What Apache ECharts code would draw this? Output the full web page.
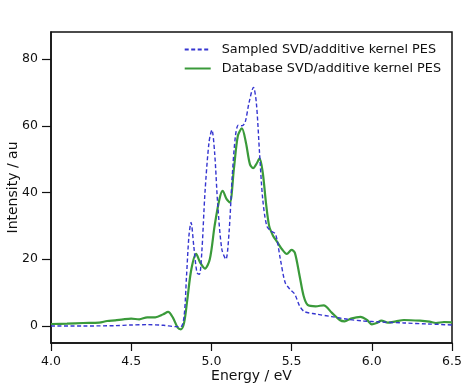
<!DOCTYPE html>
<html>
<head>
<meta charset="utf-8">
<script src="https://cdn.jsdelivr.net/npm/echarts@6/dist/echarts.min.js"></script>
<style>
  html, body { margin: 0; padding: 0; background: #fff; }
  #chart { width: 462px; height: 386px; }
</style>
</head>
<body>
<div id="chart"></div>
<script>
// sampled SVD/additive kernel PES (blue dashed)
const sampledX = [4.0, 4.2, 4.4, 4.5, 4.6, 4.7, 4.78, 4.81, 4.83, 4.845, 4.86, 4.873, 4.89, 4.91, 4.925, 4.94, 4.96, 4.985, 5.003, 5.02, 5.04, 5.065, 5.09, 5.11, 5.13, 5.15, 5.168, 5.19, 5.21, 5.235, 5.262, 5.28, 5.30, 5.32, 5.345, 5.37, 5.40, 5.43, 5.46, 5.49, 5.52, 5.55, 5.58, 5.65, 5.75, 5.85, 5.95, 6.05, 6.2, 6.35, 6.5]
const sampledY = [0, 0, 0.1, 0.3, 0.4, 0.2, -0.2, -0.2, 3, 15, 27, 31, 24, 16, 15.5, 22, 40, 55, 58.7, 52, 36, 23, 20, 28, 45, 57, 60.2, 60, 61, 67, 71.5, 67, 52, 38, 30, 28.5, 27.5, 20, 13, 11, 9.5, 6, 4.3, 3.6, 2.8, 2.0, 1.5, 1.2, 0.9, 0.6, 0.3]

// database SVD/additive kernel PES (green solid)
const databaseX = [4.0, 4.1, 4.2, 4.3, 4.35, 4.4, 4.45, 4.5, 4.55, 4.6, 4.65, 4.7, 4.73, 4.76, 4.79, 4.81, 4.83, 4.85, 4.875, 4.905, 4.93, 4.96, 4.99, 5.02, 5.05, 5.07, 5.095, 5.115, 5.14, 5.165, 5.19, 5.215, 5.24, 5.26, 5.28, 5.30, 5.32, 5.34, 5.36, 5.385, 5.41, 5.44, 5.47, 5.5, 5.52, 5.55, 5.575, 5.6, 5.65, 5.7, 5.75, 5.8, 5.83, 5.87, 5.93, 5.97, 6.0, 6.03, 6.06, 6.1, 6.15, 6.2, 6.3, 6.36, 6.4, 6.45, 6.5]
const databaseY = [0.6, 0.7, 0.9, 1.0, 1.5, 1.7, 2.0, 2.2, 2.0, 2.6, 2.6, 3.5, 4.2, 2.5, -0.5, -1.0, 1, 8, 17, 21.6, 19, 17.2, 20, 30, 38, 40.5, 38, 37, 47, 57, 59.2, 55, 48.5, 47.3, 48.5, 50.2, 46, 37, 30, 27, 25.2, 23, 21.6, 22.8, 22, 15, 9, 6.3, 5.9, 6.2, 4, 1.8, 1.4, 2.2, 2.7, 1.8, 0.5, 0.9, 1.6, 1.0, 1.4, 1.8, 1.6, 1.3, 0.9, 1.2, 1.1]

const yTicks = [0, 20, 40, 60, 80]

const font = 'DejaVu Sans'
const ink = '#111'

const chart = echarts.init(document.getElementById('chart'))

const zip = (xs, ys) => xs.map((x, i) => [x, ys[i]])

chart.setOption({
  animation: false,
  textStyle: { fontFamily: font, color: ink },
  grid: {
    left: 51, right: 10, top: 32, bottom: 43,
    outerBoundsMode: 'none', containLabel: false,
    show: true, borderColor: ink, borderWidth: 1.5, backgroundColor: 'transparent'
  },
  legend: {
    orient: 'vertical',
    right: 16, top: 38,
    itemWidth: 26, itemHeight: 14, itemGap: 6,
    itemStyle: { opacity: 0 },
    textStyle: { fontFamily: font, fontSize: 12.8, color: ink, padding: [0, 0, 0, 6] },
    data: ['Sampled SVD/additive kernel PES', 'Database SVD/additive kernel PES']
  },
  xAxis: {
    type: 'value',
    min: 4.0, max: 6.5, interval: 0.5,
    name: 'Energy / eV', nameLocation: 'middle', nameGap: 26, nameMoveOverlap: false,
    nameTextStyle: { fontFamily: font, fontSize: 14, color: ink },
    axisLine: { show: true, onZero: false, lineStyle: { color: ink, width: 1.5 } },
    axisTick: { show: true, inside: false, length: 8, lineStyle: { color: ink, width: 1.2 } },
    axisLabel: { margin: 12, fontSize: 12.5, color: ink, fontFamily: font, formatter: v => v.toFixed(1) },
    splitLine: { show: false }
  },
  yAxis: {
    type: 'value',
    min: -5.1, max: 88.1,
    name: 'Intensity / au', nameLocation: 'middle', nameGap: 31, nameMoveOverlap: false,
    nameTextStyle: { fontFamily: font, fontSize: 14, color: ink },
    axisLine: { show: true, onZero: false, lineStyle: { color: ink, width: 1.5 } },
    axisTick: { show: true, inside: false, length: 9, customValues: yTicks, lineStyle: { color: ink, width: 1.2 } },
    axisLabel: { margin: 13, fontSize: 12.5, color: ink, fontFamily: font, customValues: yTicks },
    splitLine: { show: false }
  },
  series: [
    {
      name: 'Sampled SVD/additive kernel PES',
      type: 'line',
      data: zip(sampledX, sampledY),
      symbol: 'none',
      smooth: 0.3,
      lineStyle: { color: '#3535d0', width: 1.4, type: [4, 2.5] },
      itemStyle: { color: '#3535d0' },
      z: 3
    },
    {
      name: 'Database SVD/additive kernel PES',
      type: 'line',
      data: zip(databaseX, databaseY),
      symbol: 'none',
      smooth: 0.3,
      lineStyle: { color: '#3a9a3a', width: 2.2 },
      itemStyle: { color: '#3a9a3a' },
      z: 2
    }
  ]
})
</script>
</body>
</html>
